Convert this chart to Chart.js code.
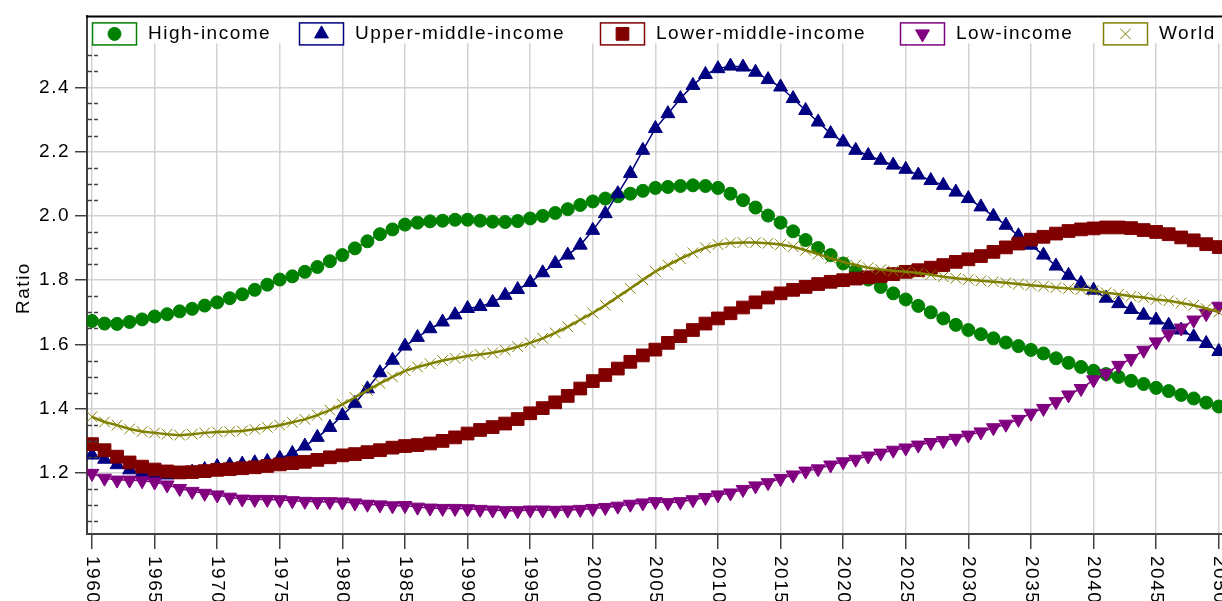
<!DOCTYPE html>
<html>
<head>
<meta charset="utf-8">
<script src="https://cdn.jsdelivr.net/npm/chart.js@4/dist/chart.umd.min.js"></script>
<style>
  html, body { margin: 0; padding: 0; background: #fff; overflow: hidden; }
  canvas { display: block; }
</style>
</head>
<body>
<canvas id="ratioChart" width="1222" height="601"></canvas>
<script>
// years 1960..2050, one point per year
const years = Array.from({ length: 91 }, (_, i) => 1960 + i);
const yearTicks = [1960, 1965, 1970, 1975, 1980, 1985, 1990, 1995, 2000, 2005, 2010,
  2015, 2020, 2025, 2030, 2035, 2040, 2045, 2050];
const ratioTicks = [1.2, 1.4, 1.6, 1.8, 2.0, 2.2, 2.4];

const highIncome = [
  1.673, 1.665, 1.664, 1.670, 1.678, 1.687, 1.694, 1.703, 1.711, 1.721,
  1.731, 1.744, 1.756, 1.770, 1.786, 1.802, 1.812, 1.826, 1.841, 1.859,
  1.878, 1.899, 1.921, 1.943, 1.958, 1.973, 1.979, 1.983, 1.985, 1.988,
  1.988, 1.985, 1.982, 1.981, 1.984, 1.992, 2.000, 2.009, 2.021, 2.034,
  2.045, 2.054, 2.061, 2.069, 2.078, 2.087, 2.090, 2.093, 2.095, 2.093,
  2.087, 2.069, 2.049, 2.026, 2.001, 1.979, 1.952, 1.925, 1.900, 1.878,
  1.852, 1.829, 1.802, 1.779, 1.759, 1.740, 1.720, 1.700, 1.681, 1.661,
  1.645, 1.632, 1.619, 1.606, 1.595, 1.583, 1.572, 1.557, 1.543, 1.530,
  1.518, 1.508, 1.499, 1.487, 1.477, 1.465, 1.455, 1.443, 1.432, 1.419,
  1.407
];
const upperMiddle = [
  1.256, 1.243, 1.226, 1.210, 1.200, 1.195, 1.194, 1.196, 1.203, 1.211,
  1.220, 1.225, 1.228, 1.232, 1.236, 1.246, 1.261, 1.284, 1.311, 1.342,
  1.379, 1.417, 1.462, 1.512, 1.551, 1.595, 1.622, 1.649, 1.670, 1.692,
  1.712, 1.718, 1.731, 1.753, 1.771, 1.793, 1.823, 1.852, 1.878, 1.909,
  1.955, 2.007, 2.069, 2.132, 2.204, 2.272, 2.318, 2.365, 2.406, 2.440,
  2.458, 2.466, 2.463, 2.447, 2.424, 2.401, 2.365, 2.328, 2.292, 2.256,
  2.230, 2.204, 2.188, 2.173, 2.158, 2.145, 2.127, 2.110, 2.095, 2.074,
  2.054, 2.028, 1.999, 1.971, 1.938, 1.909, 1.878, 1.844, 1.815, 1.790,
  1.769, 1.744, 1.727, 1.709, 1.691, 1.676, 1.660, 1.645, 1.624, 1.603,
  1.578
];
const lowerMiddle = [
  1.290, 1.271, 1.251, 1.233, 1.220, 1.211, 1.205, 1.202, 1.203, 1.206,
  1.210, 1.212, 1.215, 1.218, 1.222, 1.227, 1.231, 1.235, 1.241, 1.249,
  1.255, 1.259, 1.265, 1.271, 1.279, 1.284, 1.287, 1.292, 1.300, 1.311,
  1.323, 1.334, 1.343, 1.354, 1.368, 1.386, 1.402, 1.420, 1.440, 1.463,
  1.486, 1.505, 1.525, 1.546, 1.566, 1.584, 1.605, 1.626, 1.645, 1.665,
  1.681, 1.697, 1.715, 1.731, 1.746, 1.759, 1.770, 1.779, 1.788, 1.795,
  1.800, 1.805, 1.809, 1.813, 1.819, 1.826, 1.831, 1.839, 1.847, 1.857,
  1.865, 1.875, 1.888, 1.902, 1.914, 1.926, 1.935, 1.945, 1.953, 1.958,
  1.961, 1.964, 1.964, 1.962, 1.956, 1.950, 1.943, 1.933, 1.924, 1.912,
  1.903
];
const lowIncome = [
  1.199, 1.184, 1.178, 1.178, 1.176, 1.172, 1.163, 1.152, 1.143, 1.137,
  1.132, 1.125, 1.119, 1.118, 1.118, 1.117, 1.114, 1.112, 1.111, 1.111,
  1.110, 1.107, 1.103, 1.101, 1.098, 1.099, 1.094, 1.091, 1.090, 1.090,
  1.089, 1.087, 1.085, 1.083, 1.083, 1.085, 1.085, 1.084, 1.085, 1.087,
  1.090, 1.093, 1.097, 1.103, 1.107, 1.111, 1.108, 1.111, 1.117, 1.124,
  1.132, 1.138, 1.149, 1.160, 1.170, 1.183, 1.194, 1.206, 1.213, 1.225,
  1.235, 1.243, 1.253, 1.262, 1.271, 1.278, 1.287, 1.295, 1.301, 1.308,
  1.318, 1.328, 1.341, 1.352, 1.367, 1.386, 1.401, 1.422, 1.443, 1.463,
  1.490, 1.510, 1.535, 1.556, 1.582, 1.608, 1.632, 1.651, 1.676, 1.696,
  1.719
];
const world = [
  1.375, 1.359, 1.349, 1.337, 1.329, 1.325, 1.321, 1.318, 1.321, 1.325,
  1.328, 1.329, 1.331, 1.336, 1.342, 1.349, 1.358, 1.367, 1.380, 1.396,
  1.414, 1.435, 1.457, 1.479, 1.499, 1.518, 1.530, 1.540, 1.550, 1.557,
  1.564, 1.569, 1.574, 1.582, 1.593, 1.605, 1.619, 1.636, 1.655, 1.677,
  1.698, 1.722, 1.748, 1.774, 1.801, 1.827, 1.847, 1.867, 1.885, 1.901,
  1.911, 1.916, 1.917, 1.917, 1.915, 1.911, 1.904, 1.893, 1.881, 1.868,
  1.857, 1.847, 1.839, 1.833, 1.829, 1.826, 1.822, 1.817, 1.811, 1.806,
  1.802, 1.798, 1.795, 1.792, 1.788, 1.784, 1.781, 1.777, 1.774, 1.771,
  1.767, 1.761, 1.756, 1.750, 1.746, 1.740, 1.736, 1.729, 1.722, 1.712,
  1.701
];

const FONT = '19px "Liberation Sans", Arial, sans-serif';
// left edge of each legend box
const legendBoxX = [92, 299, 600, 900, 1103];

function points(values) {
  return years.map((yr, i) => ({ x: yr, y: values[i] }));
}

function series(label, values, color, style, radius, order, extra) {
  return Object.assign({
    label: label,
    data: points(values),
    borderColor: color,
    backgroundColor: color,
    borderWidth: 1.5,
    pointStyle: style,
    pointRadius: radius,
    pointBorderWidth: 1,
    pointRotation: 0,
    tension: 0,
    order: order
  }, extra || {});
}

// legend, frame line, minor ticks, rotated year labels, axis title
const chartDecor = {
  id: 'chartDecor',
  beforeDraw(chart) {
    chart.ctx.letterSpacing = '1.5px';
  },
  afterDraw(chart) {
    const { ctx, chartArea, scales: { x, y } } = chart;
    const W = chart.width;
    ctx.save();
    ctx.letterSpacing = '1.5px';

    // minor ticks every 0.05
    ctx.strokeStyle = '#404040';
    ctx.lineWidth = 1.5;
    ctx.setLineDash([4, 2]);
    ctx.beginPath();
    for (let k = 21; k <= 52; k++) {
      if (k % 4 === 0) continue;
      const py = Math.round(y.getPixelForValue(k * 0.05)) + 0.5;
      if (py < chartArea.top || py > chartArea.bottom) continue;
      ctx.moveTo(chartArea.left + 1, py);
      ctx.lineTo(chartArea.left + 11, py);
    }
    ctx.stroke();
    ctx.setLineDash([]);

    // legend strip on top of the plot
    ctx.fillStyle = '#fff';
    ctx.fillRect(chartArea.left + 1, chartArea.top, W - chartArea.left, 27);
    ctx.strokeStyle = '#000';
    ctx.lineWidth = 2;
    ctx.beginPath();
    ctx.moveTo(chartArea.left - 1, chartArea.top);
    ctx.lineTo(W, chartArea.top);
    ctx.stroke();

    ctx.font = FONT;
    ctx.textBaseline = 'middle';
    ctx.textAlign = 'left';
    const boxTop = chartArea.top + 6;
    chart.data.datasets.forEach((ds, i) => {
      const lx = legendBoxX[i];
      ctx.strokeStyle = ds.borderColor;
      ctx.lineWidth = 1.5;
      ctx.strokeRect(lx + 0.5, boxTop + 0.5, 44, 22);
      ctx.fillStyle = ds.backgroundColor;
      ctx.lineWidth = 1;
      Chart.helpers.drawPoint(ctx, {
        pointStyle: ds.pointStyle,
        rotation: ds.pointRotation,
        radius: ds.pointRadius,
        borderWidth: 1
      }, lx + 22.5, boxTop + 11.5);
      ctx.fillStyle = '#000';
      ctx.fillText(ds.label, lx + 56, boxTop + 11);
    });

    // year labels, rotated clockwise
    ctx.fillStyle = '#000';
    yearTicks.forEach(v => {
      const px = x.getPixelForValue(v);
      ctx.save();
      ctx.translate(px, chartArea.bottom + 22);
      ctx.rotate(Math.PI / 2);
      ctx.textAlign = 'left';
      ctx.textBaseline = 'middle';
      ctx.fillText(String(v), 0, 0);
      ctx.restore();
    });

    // axis title
    ctx.save();
    ctx.translate(23.5, 288);
    ctx.rotate(-Math.PI / 2);
    ctx.textAlign = 'center';
    ctx.textBaseline = 'middle';
    ctx.fillText('Ratio', 0, 0);
    ctx.restore();

    ctx.restore();
  }
};

new Chart(document.getElementById('ratioChart'), {
  type: 'line',
  data: {
    datasets: [
      series('High-income', highIncome, '#008000', 'circle', 6.5, 5),
      series('Upper-middle-income', upperMiddle, '#000080', 'triangle', 8, 4),
      series('Lower-middle-income', lowerMiddle, '#800000', 'rect', 9, 3),
      series('Low-income', lowIncome, '#800080', 'triangle', 8, 2, { pointRotation: 180 }),
      series('World', world, '#808000', 'crossRot', 7.5, 1,
        { borderWidth: 2.5, backgroundColor: 'rgba(0,0,0,0)' })
    ]
  },
  options: {
    responsive: false,
    animation: false,
    layout: { autoPadding: false, padding: { top: 16, left: 0, right: 0, bottom: 0 } },
    plugins: {
      legend: { display: false },
      tooltip: { enabled: false }
    },
    scales: {
      x: {
        type: 'linear',
        min: 1959.6,
        max: 2050.26,
        afterBuildTicks: s => { s.ticks = yearTicks.map(v => ({ value: v })); },
        afterFit: s => { s.height = 67; },
        ticks: { display: false },
        grid: { color: '#d3d3d3', lineWidth: 1.5, tickLength: 15, tickColor: '#404040', tickWidth: 1.5 },
        border: { color: '#404040', width: 2 }
      },
      y: {
        type: 'linear',
        min: 1.0104,
        max: 2.6206,
        afterBuildTicks: s => { s.ticks = ratioTicks.map(v => ({ value: v })); },
        afterFit: s => { s.width = 87; },
        ticks: {
          color: '#000',
          padding: 5,
          font: { family: '"Liberation Sans", Arial, sans-serif', size: 19 },
          callback: v => v.toFixed(1)
        },
        grid: { color: '#d3d3d3', lineWidth: 1.5, tickLength: 12, tickColor: '#404040', tickWidth: 1.5 },
        border: { color: '#404040', width: 2 }
      }
    }
  },
  plugins: [chartDecor]
});
</script>
</body>
</html>
